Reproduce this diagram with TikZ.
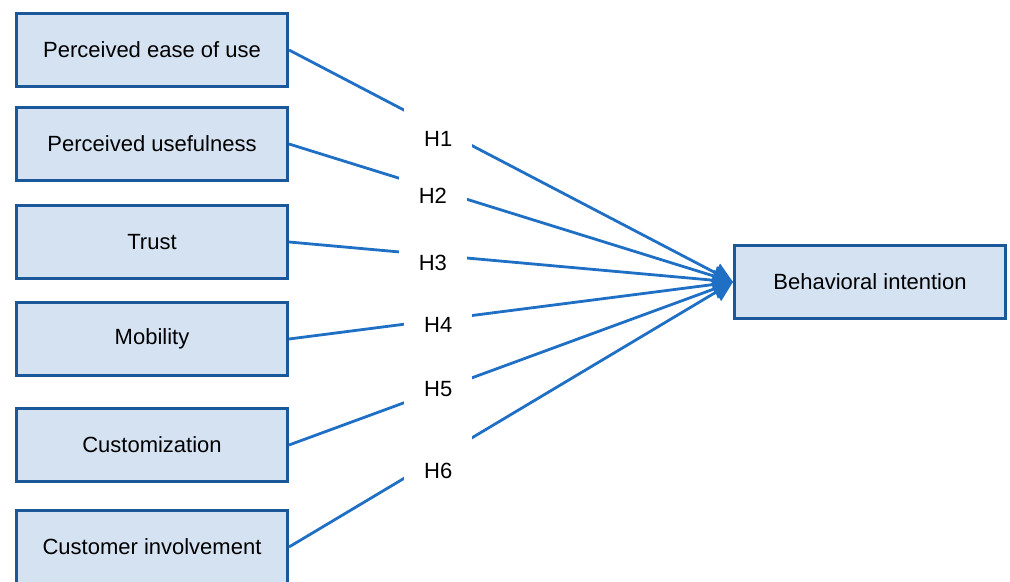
\documentclass[tikz,border=0pt]{standalone}
\usepackage{fontspec}
\setmainfont{Liberation Sans}
\usepackage{xcolor}
\usepackage{tikz}
\usetikzlibrary{arrows.meta, positioning}

\definecolor{boxfill}{RGB}{213,226,242}
\definecolor{boxline}{RGB}{26,88,154}
\definecolor{linkblue}{RGB}{31,111,197}

\begin{document}
\begin{tikzpicture}[
    x=0.5pt, y=-0.5pt,
    node distance=9pt,
    factor/.style={draw=boxline, fill=boxfill, line width=1.5pt, rectangle, minimum height=36.5pt, minimum width=135.5pt, align=center, font=\fontsize{11}{13}\selectfont},
    gap/.style={fill=white, minimum width=34pt, minimum height=22pt, inner sep=0pt},
    hlabel/.style={inner sep=0pt, font=\fontsize{11}{13}\selectfont},
    link/.style={draw=linkblue, line width=1.4pt, -{Triangle[length=10pt, width=10pt]}}
]
    \useasboundingbox (0,0) rectangle (1010,582);

    \node[factor] (peou) at (152,50) {Perceived ease of use};
    \node[factor, below=9pt of peou] (pu) {Perceived usefulness};
    \node[factor, below=11pt of pu] (trust) {Trust};
    \node[factor, below=10.5pt of trust] (mob) {Mobility};
    \node[factor, below=15pt of mob] (cust) {Customization};
    \node[factor, below=13pt of cust] (inv) {Customer involvement};
    \node[factor] (bi) at (870,282) {Behavioral intention};

    % hypotheses: gap in each line, label a little off the line
    \draw[link] (peou.east) -- node[gap, pos=0.336, label={[hlabel, yshift=-5.5pt]center:H1}] {} (bi.west);
    \draw[link] (pu.east) -- node[gap, pos=0.324, label={[hlabel, yshift=-3.7pt]center:H2}] {} (bi.west);
    \draw[link] (trust.east) -- node[gap, pos=0.324, label={[hlabel, yshift=-4pt]center:H3}] {} (bi.west);
    \draw[link] (mob.east) -- node[gap, pos=0.336, label={[hlabel, yshift=-2.4pt]center:H4}] {} (bi.west);
    \draw[link] (cust.east) -- node[gap, pos=0.336, label={[hlabel, yshift=0.8pt]center:H5}] {} (bi.west);
    \draw[link] (inv.east) -- node[gap, pos=0.336, label={[hlabel, yshift=-6.6pt]center:H6}] {} (bi.west);
\end{tikzpicture}
\end{document}
